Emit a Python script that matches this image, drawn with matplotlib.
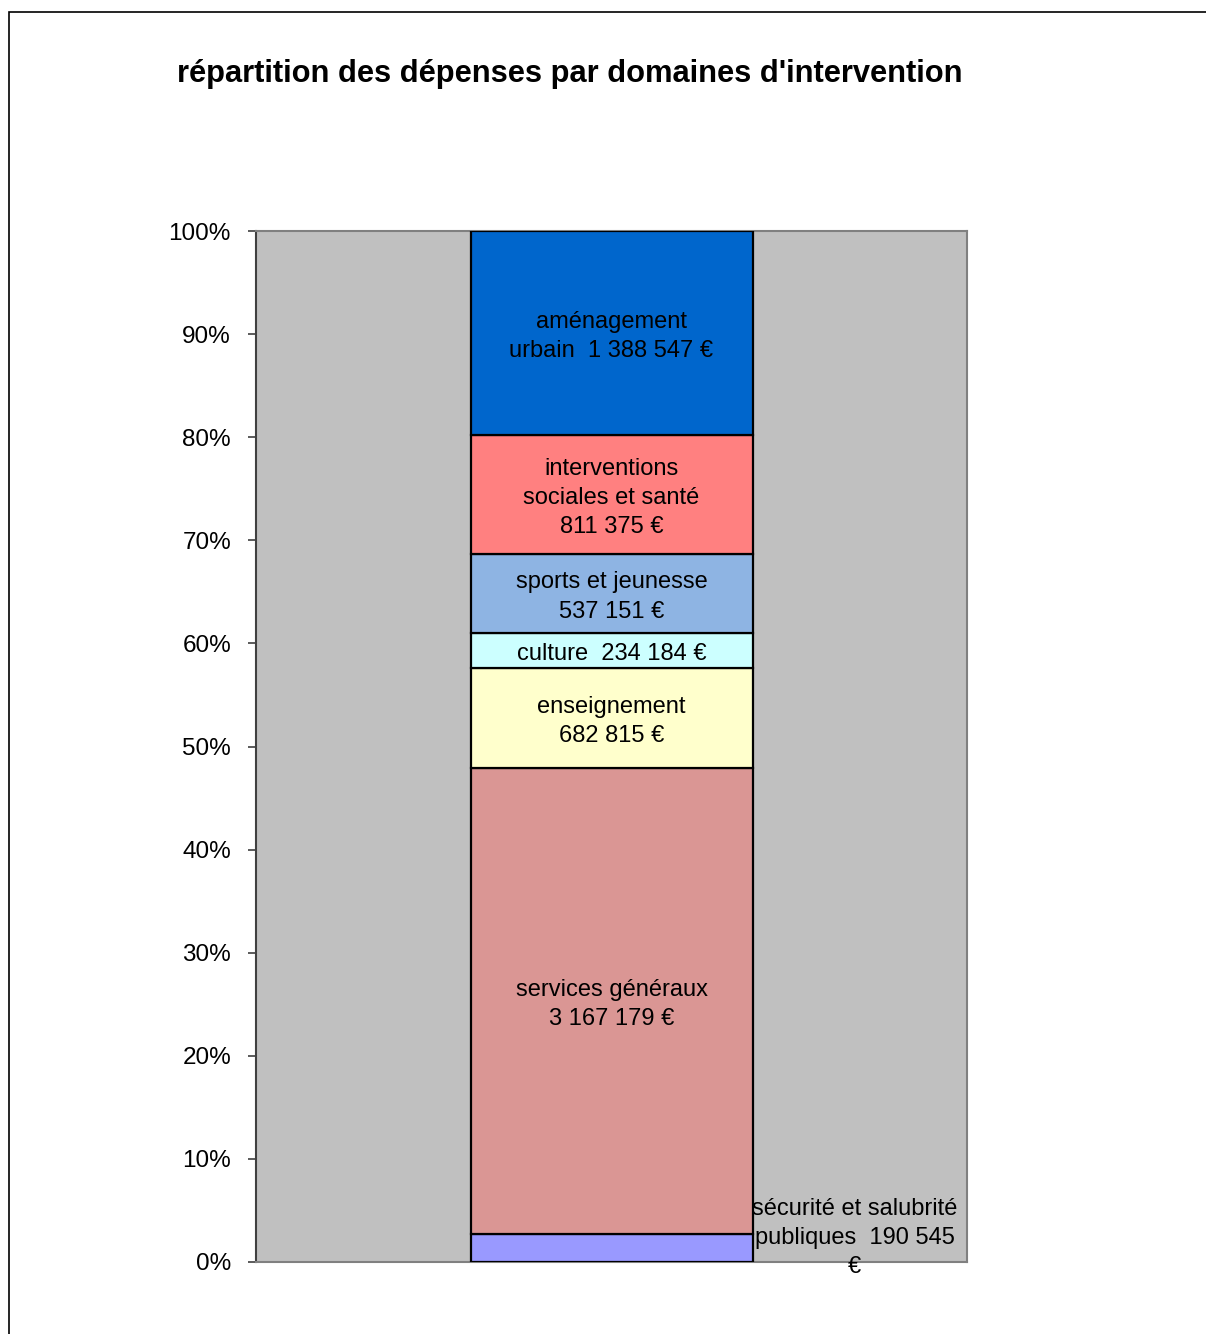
import matplotlib
matplotlib.use("Agg")
import matplotlib.pyplot as plt
from matplotlib.patches import Rectangle

plt.rcParams['font.family'] = ['Liberation Sans', 'DejaVu Sans']

categories = ["sécurité et salubrité\npubliques  190 545\n€",
              "services généraux\n3 167 179 €",
              "enseignement\n682 815 €",
              "culture  234 184 €",
              "sports et jeunesse\n537 151 €",
              "interventions\nsociales et santé\n811 375 €",
              "aménagement\nurbain  1 388 547 €"]
values = [190545, 3167179, 682815, 234184, 537151, 811375, 1388547]
colors = ["#9999FF", "#DA9694", "#FFFFCC", "#CCFFFF", "#8EB4E3", "#FF8080", "#0066CC"]
yticks = [0, 10, 20, 30, 40, 50, 60, 70, 80, 90, 100]
ytick_labels = ["0%", "10%", "20%", "30%", "40%", "50%", "60%", "70%", "80%", "90%", "100%"]
title = "répartition des dépenses par domaines d'intervention"

W, H = 1206, 1334
fig = plt.figure(figsize=(W / 100, H / 100), dpi=100)
fig.patch.set_facecolor("white")
fig.add_artist(Rectangle((9 / W, -0.1), 1.2, 1.1 - 12 / H, transform=fig.transFigure,
                         fill=False, edgecolor="black", linewidth=1.2))

ax = fig.add_axes([256 / W, 1 - 1262 / H, (967 - 256) / W, (1262 - 231) / H])
ax.set_facecolor("#C0C0C0")

total = sum(values)
pct = [v / total * 100 for v in values]
bottom = 0
width = 282 / 711
for lab, p, c in zip(categories, pct, colors):
    ax.bar(0, p, width=width, bottom=bottom, color=c, edgecolor="black", linewidth=1.6, zorder=3)
    if lab.startswith("sécurité"):
        ax.text(0.342, bottom + p / 2 + 1.0, lab, ha="center", va="center", fontsize=17,
                linespacing=1.42, zorder=5, clip_on=False)
    else:
        ax.text(0, bottom + p / 2 - 0.3, lab, ha="center", va="center", fontsize=17,
                linespacing=1.42, zorder=5)
    bottom += p

ax.set_xlim(-0.5, 0.5)
ax.set_ylim(0, 100)
ax.set_xticks([])
ax.set_yticks(yticks)
ax.set_yticklabels(ytick_labels, fontsize=17.5)
ax.tick_params(axis="y", direction="out", length=6, width=1.2, color="#404040", pad=12)
for s in ["top", "right", "bottom"]:
    ax.spines[s].set_color("#808080")
    ax.spines[s].set_linewidth(1.5)
ax.spines["left"].set_color("#404040")
ax.spines["left"].set_linewidth(1.5)

fig.text(570 / W, 1 - 74 / H, title, ha="center", va="center", fontsize=22.2, fontweight="bold")

fig.savefig("out.png", dpi=100)
